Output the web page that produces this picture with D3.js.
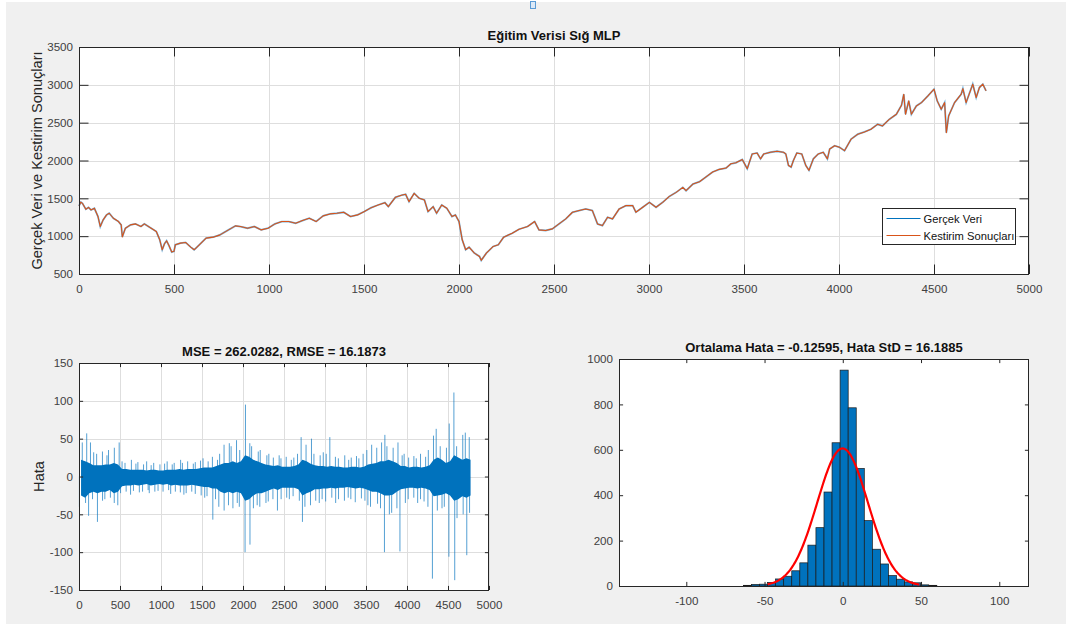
<!DOCTYPE html>
<html>
<head>
<meta charset="utf-8">
<script src="https://cdn.jsdelivr.net/npm/d3@7"></script>
<style>
  body { margin: 0; background: #fff; }
  svg text { font-family: Arial, "Liberation Sans", Helvetica, sans-serif; }
</style>
</head>
<body>
<div id="chart"></div>
<script>

// ---- üst grafik: eğitim verisi (indeks, değer) ----
const gercekVeri = [
  [0,1400],[10,1450],[18,1434],[36,1355],[50,1380],[63,1346],[81,1368],[100,1259],[112,1127],
  [127,1215],[145,1281],[159,1303],[181,1237],[208,1193],[222,1150],[228,990],[244,1105],
  [271,1149],[298,1162],[326,1127],[344,1162],[380,1105],[407,1061],[425,952],[438,820],
  [450,900],[461,939],[474,873],[488,790],[500,800],[507,886],[534,908],[561,917],[588,855],
  [606,820],[633,886],[669,974],[706,987],[742,1017],[787,1083],[823,1136],[850,1127],
  [887,1105],[923,1127],[959,1083],[995,1105],[1031,1162],[1067,1193],[1104,1193],[1140,1171],
  [1176,1206],[1212,1237],[1248,1193],[1285,1268],[1321,1294],[1357,1303],[1393,1316],
  [1429,1259],[1466,1281],[1502,1325],[1538,1377],[1574,1412],[1610,1443],[1628,1390],
  [1665,1513],[1701,1544],[1719,1553],[1737,1456],[1764,1566],[1791,1500],[1818,1478],
  [1837,1325],[1864,1390],[1882,1303],[1909,1412],[1936,1368],[1963,1259],[1981,1281],
  [2000,1193],[2017,952],[2035,820],[2053,855],[2081,776],[2108,732],[2117,680],[2144,776],
  [2180,864],[2207,886],[2235,987],[2280,1039],[2316,1092],[2361,1127],[2398,1193],[2421,1083],
  [2456,1075],[2491,1096],[2526,1162],[2562,1228],[2597,1316],[2632,1338],[2667,1360],
  [2702,1338],[2729,1162],[2755,1140],[2782,1250],[2808,1228],[2843,1360],[2879,1404],
  [2914,1404],[2931,1316],[2967,1382],[3002,1447],[3037,1382],[3072,1447],[3107,1526],
  [3143,1579],[3178,1645],[3195,1601],[3231,1689],[3266,1720],[3300,1783],[3335,1848],
  [3370,1883],[3405,1900],[3431,1957],[3457,1970],[3491,2013],[3517,1891],[3543,2087],
  [3569,2100],[3587,2022],[3604,2087],[3639,2109],[3674,2122],[3708,2109],[3720,2087],
  [3734,1935],[3748,1913],[3760,2000],[3778,2100],[3804,2087],[3825,1935],[3842,1870],
  [3865,2022],[3891,2087],[3917,2109],[3939,2022],[3951,2152],[3977,2196],[4003,2174],
  [4029,2130],[4064,2283],[4099,2348],[4134,2378],[4168,2413],[4203,2478],[4229,2457],
  [4264,2543],[4302,2611],[4329,2730],[4341,2876],[4350,2611],[4367,2788],[4381,2611],
  [4407,2721],[4434,2765],[4468,2854],[4500,2942],[4517,2788],[4538,2677],[4556,2765],
  [4565,2367],[4577,2588],[4608,2765],[4643,2876],[4652,2951],[4669,2765],[4704,3009],
  [4722,2832],[4739,2965],[4757,3009],[4774,2920]
];
// kestirim, bu çözünürlükte gerçek veriyle üst üste düşüyor
const kestirimSonuclari = gercekVeri;

const ustXTicks = [0, 500, 1000, 1500, 2000, 2500, 3000, 3500, 4000, 4500, 5000];
const ustYTicks = [500, 1000, 1500, 2000, 2500, 3000, 3500];

// ---- sol alt: hata, 50'lik bloklar halinde (yoğun bant + blok uç değerleri) ----
const hataBlok = d3.range(0, 4800, 50);
const hataYogunUst = [
  22,20,18,15,15,15,16,16,18,16,
  10,10,9,9,9,9,8,9,9,8,
  8,9,9,9,10,9,10,10,10,11,
  12,12,12,14,16,18,18,20,18,20,
  28,26,22,20,18,16,15,14,15,13,
  13,13,14,16,22,20,17,15,14,14,
  13,14,13,13,12,12,13,13,12,13,
  16,17,18,20,20,22,20,18,14,14,
  12,13,13,12,13,15,22,25,22,18,
  20,28,25,22,24,22
];
const hataYogunAlt = [
  -25,-28,-22,-20,-22,-20,-20,-18,-22,-20,
  -13,-12,-12,-11,-12,-11,-10,-12,-11,-10,
  -11,-10,-12,-11,-12,-12,-12,-11,-12,-13,
  -14,-14,-16,-16,-20,-22,-20,-22,-20,-22,
  -32,-30,-25,-22,-22,-20,-18,-16,-18,-15,
  -15,-15,-15,-17,-25,-22,-20,-17,-17,-16,
  -16,-15,-16,-15,-15,-14,-15,-16,-15,-16,
  -18,-20,-20,-22,-25,-25,-24,-20,-17,-16,
  -15,-15,-16,-15,-16,-18,-26,-25,-24,-22,
  -25,-32,-30,-26,-28,-25
];
const hataTepeUst = [
  45,57,45,32,30,33,28,35,38,45,
  20,18,22,17,19,16,20,15,18,16,
  17,20,16,18,22,18,20,17,19,21,
  24,20,26,22,30,42,44,40,48,35,
  95,44,40,33,35,28,30,25,28,24,
  26,22,25,30,52,42,50,30,28,32,
  30,52,26,24,28,22,25,27,24,30,
  35,42,38,45,55,40,38,45,28,30,
  25,27,24,30,26,35,54,63,40,38,
  70,111,40,55,58,52
];
const hataTepeAlt = [
  -40,-35,-52,-30,-60,-32,-30,-28,-35,-38,
  -22,-20,-24,-19,-21,-20,-18,-22,-20,-19,
  -20,-18,-23,-20,-21,-24,-22,-20,-23,-25,
  -28,-26,-57,-30,-40,-45,-38,-42,-35,-40,
  -100,-90,-42,-38,-40,-35,-33,-30,-45,-30,
  -28,-30,-26,-32,-60,-40,-38,-32,-35,-30,
  -33,-28,-35,-30,-32,-28,-30,-34,-29,-32,
  -38,-40,-36,-42,-100,-50,-48,-42,-99,-35,
  -30,-28,-35,-30,-33,-40,-135,-45,-42,-40,
  -106,-137,-55,-50,-104,-48
];
const hataXTicks = [0, 500, 1000, 1500, 2000, 2500, 3000, 3500, 4000, 4500, 5000];
const hataYTicks = [-150, -100, -50, 0, 50, 100, 150];

// ---- sağ alt: hata histogramı ----
const histKenarlar = [-63.5,-58.35,-53.2,-48.05,-42.9,-37.75,-32.6,-27.45,-22.3,-17.15,-12.0,-6.85,
  -1.7,3.45,8.6,13.75,18.9,24.05,29.2,34.35,39.5,44.65,49.8,54.95,60.1];
const histSayilar = [3,7,8,16,31,43,67,102,180,257,414,631,951,785,518,288,162,97,46,30,18,14,5,3];
const ortalamaHata = -0.12595;
const hataStd = 16.1885;
const ornekSayisi = 4775;
const histXTicks = [-100, -50, 0, 50, 100];
const histYTicks = [0, 200, 400, 600, 800, 1000];

const svgWidth = 1066, svgHeight = 624;
const blue = '#0072BD', orange = '#D95319';
const fontFamily = 'Arial, "Liberation Sans", Helvetica, sans-serif';

const svg = d3.select('#chart').append('svg')
  .attr('width', svgWidth)
  .attr('height', svgHeight);

svg.append('rect')
  .attr('x', 6).attr('y', 2)
  .attr('width', svgWidth - 6).attr('height', svgHeight - 2)
  .attr('fill', '#f0f0f0');

// küçük seçim tutamacı
svg.append('rect')
  .attr('x', 530.5).attr('y', 1.5)
  .attr('width', 5).attr('height', 7)
  .attr('fill', '#dce9f7').attr('stroke', '#5b9bd5');

// MATLAB benzeri eksen: beyaz zemin + isteğe bağlı ızgara
const makeAxes = (box, xDomain, yDomain, xTicks, yTicks, grid) => {
  const g = svg.append('g').attr('transform', `translate(${box.left}, ${box.top})`);
  const x = d3.scaleLinear().domain(xDomain).range([0, box.width]);
  const y = d3.scaleLinear().domain(yDomain).range([box.height, 0]);
  g.append('rect').attr('width', box.width).attr('height', box.height).attr('fill', '#fff');
  if (grid) {
    g.append('g').selectAll('line').data(xTicks).join('line')
      .attr('x1', d => Math.round(x(d)) + 0.5).attr('x2', d => Math.round(x(d)) + 0.5)
      .attr('y1', 0).attr('y2', box.height)
      .attr('stroke', '#dedede');
    g.append('g').selectAll('line').data(yTicks).join('line')
      .attr('y1', d => Math.round(y(d)) + 0.5).attr('y2', d => Math.round(y(d)) + 0.5)
      .attr('x1', 0).attr('x2', box.width)
      .attr('stroke', '#dedede');
  }
  return { g, x, y, box, xTicks, yTicks };
};

const styleAxis = (a, labels) => {
  a.select('.domain').remove();
  a.attr('font-family', fontFamily).attr('font-size', 11.6);
  a.selectAll('line').attr('stroke', '#262626');
  a.selectAll('text').attr('fill', labels ? '#404040' : 'none');
};

const plain = d => String(d);

// çerçeve, içe dönük çentikler ve etiketler
const finishAxes = (ax, tickLen, xPad) => {
  const { g, x, y, box, xTicks, yTicks } = ax;
  g.append('g').attr('transform', `translate(0, ${box.height})`)
    .call(d3.axisBottom(x).tickValues(xTicks).tickFormat(plain)
      .tickSizeInner(-tickLen).tickSizeOuter(0).tickPadding(xPad))
    .call(a => styleAxis(a, true));
  g.append('g')
    .call(d3.axisTop(x).tickValues(xTicks).tickSizeInner(-tickLen).tickSizeOuter(0).tickFormat(''))
    .call(a => styleAxis(a, false));
  g.append('g')
    .call(d3.axisLeft(y).tickValues(yTicks).tickFormat(plain)
      .tickSizeInner(-tickLen).tickSizeOuter(0).tickPadding(6))
    .call(a => styleAxis(a, true));
  g.append('g').attr('transform', `translate(${box.width}, 0)`)
    .call(d3.axisRight(y).tickValues(yTicks).tickSizeInner(-tickLen).tickSizeOuter(0).tickFormat(''))
    .call(a => styleAxis(a, false));
  g.append('rect')
    .attr('x', 0.5).attr('y', 0.5)
    .attr('width', box.width - 1).attr('height', box.height)
    .attr('fill', 'none').attr('stroke', '#262626');
};

const addTitle = (ax, text, baseline) => {
  svg.append('text')
    .attr('x', ax.box.left + ax.box.width / 2)
    .attr('y', baseline)
    .attr('text-anchor', 'middle')
    .attr('font-size', 13)
    .attr('font-weight', 'bold')
    .attr('fill', '#111')
    .text(text);
};

const addYLabel = (ax, text, baselineX) => {
  const cy = ax.box.top + ax.box.height / 2;
  svg.append('text')
    .attr('transform', `translate(${baselineX}, ${cy}) rotate(-90)`)
    .attr('text-anchor', 'middle')
    .attr('font-size', 14.6)
    .attr('fill', '#262626')
    .text(text);
};

// ---------- üst grafik ----------
const topAx = makeAxes({ left: 79, top: 47, width: 950, height: 227 },
  [0, 5000], [500, 3500], ustXTicks, ustYTicks, true);

const priceLine = d3.line()
  .x(d => topAx.x(d[0]))
  .y(d => topAx.y(d[1]));

topAx.g.append('path')
  .datum(gercekVeri)
  .attr('d', priceLine)
  .attr('fill', 'none')
  .attr('stroke', blue)
  .attr('stroke-opacity', 0.55)
  .attr('stroke-width', 1.8);

topAx.g.append('path')
  .datum(kestirimSonuclari)
  .attr('d', priceLine)
  .attr('fill', 'none')
  .attr('stroke', orange)
  .attr('stroke-width', 1.1)
  .attr('stroke-linejoin', 'round');

finishAxes(topAx, 9.5, 11);
addTitle(topAx, 'Eğitim Verisi Sığ MLP', 40);
addYLabel(topAx, 'Gerçek Veri ve Kestirim Sonuçları', 42);

// lejant
const legend = svg.append('g').attr('transform', 'translate(882.5, 208.5)');
legend.append('rect')
  .attr('width', 133).attr('height', 36)
  .attr('fill', '#fff').attr('stroke', '#262626');
const legendItems = [
  { label: 'Gerçek Veri', color: blue },
  { label: 'Kestirim Sonuçları', color: orange }
];
legendItems.forEach((item, i) => {
  const yy = 10 + i * 17;
  legend.append('line')
    .attr('x1', 4).attr('x2', 38)
    .attr('y1', yy).attr('y2', yy)
    .attr('stroke', item.color).attr('stroke-width', 1.2);
  legend.append('text')
    .attr('x', 41).attr('y', yy + 4)
    .attr('font-size', 11.2)
    .attr('fill', '#111')
    .text(item.label);
});

// ---------- sol alt: hata ----------
const errAx = makeAxes({ left: 79, top: 363, width: 410, height: 227 },
  [0, 5000], [-150, 150], hataXTicks, hataYTicks, true);

const hataBloklari = hataBlok.map((b, i) => ({
  b,
  ust: hataYogunUst[i],
  alt: hataYogunAlt[i],
  tepeUst: hataTepeUst[i],
  tepeAlt: hataTepeAlt[i]
}));

// blok içindeki konum düzenli tarak görüntüsü vermesin diye değere göre kaydırılır
const upPos = d => d.b + 5 + (d.tepeUst * 7) % 40;
const downPos = d => d.b + 5 + (-d.tepeAlt * 11) % 40;

// blok uç değerleri: ince açık çizgiler
errAx.g.append('g').selectAll('line').data(hataBloklari).join('line')
  .attr('x1', d => errAx.x(upPos(d))).attr('x2', d => errAx.x(upPos(d)))
  .attr('y1', errAx.y(0)).attr('y2', d => errAx.y(d.tepeUst))
  .attr('stroke', blue).attr('stroke-opacity', 0.75).attr('stroke-width', 0.9);

errAx.g.append('g').selectAll('line').data(hataBloklari).join('line')
  .attr('x1', d => errAx.x(downPos(d))).attr('x2', d => errAx.x(downPos(d)))
  .attr('y1', errAx.y(0)).attr('y2', d => errAx.y(d.tepeAlt))
  .attr('stroke', blue).attr('stroke-opacity', 0.75).attr('stroke-width', 0.9);

// yoğun bant
errAx.g.append('path')
  .datum(hataBloklari)
  .attr('d', d3.area()
    .x(d => errAx.x(d.b + 25))
    .y0(d => errAx.y(d.alt))
    .y1(d => errAx.y(d.ust)))
  .attr('fill', blue);

finishAxes(errAx, 4.1, 11);
addTitle(errAx, 'MSE = 262.0282, RMSE = 16.1873', 356);
addYLabel(errAx, 'Hata', 44);

// ---------- sağ alt: histogram ----------
const histAx = makeAxes({ left: 619, top: 359, width: 410, height: 227 },
  [-143, 119], [0, 1000], histXTicks, histYTicks, false);

const bins = histSayilar.map((c, i) => ({ x0: histKenarlar[i], x1: histKenarlar[i + 1], c }));

histAx.g.append('g').selectAll('rect').data(bins).join('rect')
  .attr('x', d => histAx.x(d.x0))
  .attr('y', d => histAx.y(d.c))
  .attr('width', d => histAx.x(d.x1) - histAx.x(d.x0))
  .attr('height', d => histAx.y(0) - histAx.y(d.c))
  .attr('fill', blue)
  .attr('stroke', '#1a1a1a')
  .attr('stroke-width', 0.7);

// normal dağılım uydurması (başlıktaki ortalama ve std ile)
const binW = histKenarlar[1] - histKenarlar[0];
const fitX = d3.range(-48, 49.5, 0.5);
const fitY = x => ornekSayisi * binW * Math.exp(-0.5 * ((x - ortalamaHata) / hataStd) ** 2) /
  (hataStd * Math.sqrt(2 * Math.PI));

histAx.g.append('path')
  .datum(fitX)
  .attr('d', d3.line().x(d => histAx.x(d)).y(d => histAx.y(fitY(d))))
  .attr('fill', 'none')
  .attr('stroke', '#ff0000')
  .attr('stroke-width', 2.2);

finishAxes(histAx, 4.1, 11);
addTitle(histAx, 'Ortalama Hata = -0.12595, Hata StD = 16.1885', 352);

</script>
</body>
</html>
